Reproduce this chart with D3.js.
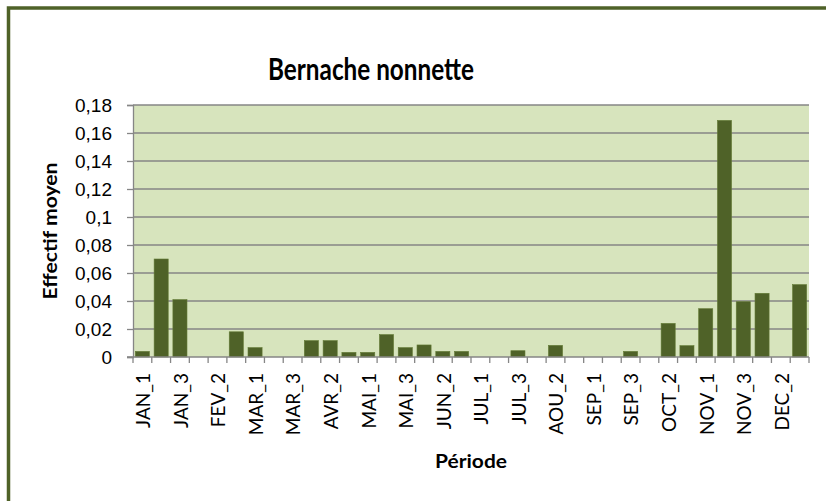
<!DOCTYPE html>
<html>
<head>
<meta charset="utf-8">
<script src="https://cdn.jsdelivr.net/npm/d3@7"></script>
<style>
  body { margin: 0; background: #fff; }
  svg { display: block; font-family: Lato, "Open Sans", sans-serif; }
</style>
</head>
<body>
<svg id="chart"></svg>
<script>
// periods, 3 per month
const months = ["JAN", "FEV", "MAR", "AVR", "MAI", "JUN", "JUL", "AOU", "SEP", "OCT", "NOV", "DEC"]
const periods = months.flatMap(m => [m + "_1", m + "_2", m + "_3"])
// mean count per period
const effectif = [
  0.004, 0.070, 0.041, 0, 0, 0.018, 0.0067, 0, 0, 0.0117, 0.0117, 0.0033,
  0.0033, 0.016, 0.0067, 0.0086, 0.004, 0.004, 0, 0, 0.0045, 0, 0.0083, 0,
  0, 0, 0.004, 0, 0.024, 0.0081, 0.0345, 0.169, 0.0395, 0.0455, 0, 0.0517
]
const yTicks = [0, 0.02, 0.04, 0.06, 0.08, 0.1, 0.12, 0.14, 0.16, 0.18]

const width = 826
const height = 501
const margin = {top: 105, right: 17, bottom: 144, left: 133}
const data = periods.map((p, i) => ({period: p, value: effectif[i]}))

const svg = d3.select("#chart")
    .attr("width", width)
    .attr("height", height)

// outer frame (cropped at right and bottom)
svg.append("rect")
    .attr("x", 8.5).attr("y", 8)
    .attr("width", 900).attr("height", 600)
    .attr("fill", "none")
    .attr("stroke", "#4F6228")
    .attr("stroke-width", 3.5)

const x = d3.scaleBand()
    .domain(periods)
    .range([margin.left, width - margin.right])
    .paddingInner(0.25)
    .paddingOuter(0.125)

const y = d3.scaleLinear()
    .domain([0, 0.18])
    .range([height - margin.bottom, margin.top])

// plot area
svg.append("rect")
    .attr("x", margin.left)
    .attr("y", margin.top)
    .attr("width", width - margin.left - margin.right)
    .attr("height", y(0) - margin.top)
    .attr("fill", "#D7E4BD")

// y axis + gridlines
const fmt = d => d3.format("~g")(d).replace(".", ",")
const yAxis = svg.append("g")
    .attr("transform", `translate(${margin.left},0)`)
    .call(d3.axisLeft(y).tickValues(yTicks).tickFormat(fmt).tickSize(6).tickPadding(15))
yAxis.select(".domain").attr("stroke", "#868686").attr("stroke-width", 1.3)
yAxis.selectAll(".tick line").attr("stroke", "#868686").attr("stroke-width", 1.3)
yAxis.selectAll("text")
    .attr("fill", "#000")
    .style("font-size", "19px")

svg.append("g")
    .selectAll("line")
    .data(yTicks.filter(d => d > 0))
    .join("line")
    .attr("x1", margin.left)
    .attr("x2", width - margin.right)
    .attr("y1", d => y(d))
    .attr("y2", d => y(d))
    .attr("stroke", "#868686")
    .attr("stroke-width", 1.3)

// bars
svg.append("g")
    .selectAll("rect")
    .data(data.filter(d => d.value > 0))
    .join("rect")
    .attr("x", d => x(d.period))
    .attr("y", d => y(d.value))
    .attr("width", x.bandwidth())
    .attr("height", d => y(0) - y(d.value))
    .attr("fill", "#4F6228")
    .attr("stroke", "#627a34")
    .attr("stroke-width", 0.6)

// x axis
const step = x.step()
const xAxis = svg.append("g")
    .attr("transform", `translate(0,${y(0)})`)
xAxis.append("line")
    .attr("x1", margin.left - 6)
    .attr("x2", width - margin.right)
    .attr("stroke", "#868686")
    .attr("stroke-width", 1.3)
xAxis.selectAll(".tk")
    .data(d3.range(periods.length + 1))
    .join("line")
    .attr("x1", i => margin.left + i * step)
    .attr("x2", i => margin.left + i * step)
    .attr("y1", 0).attr("y2", 6)
    .attr("stroke", "#868686")
    .attr("stroke-width", 1.3)
xAxis.selectAll("text")
    .data(periods.filter((p, i) => i % 2 === 0))
    .join("text")
    .attr("transform", d => `translate(${x(d) + x.bandwidth() / 2 + 1},16) rotate(-90)`)
    .attr("text-anchor", "end")
    .attr("dy", "0.36em")
    .style("font-size", "19px")
    .text(d => d)

// titles
svg.append("text")
    .attr("x", 371)
    .attr("y", 80)
    .attr("text-anchor", "middle")
    .attr("textLength", 206)
    .attr("lengthAdjust", "spacingAndGlyphs")
    .style("font-size", "30px")
    .style("font-weight", "bold")
    .text("Bernache nonnette")

svg.append("text")
    .attr("transform", `translate(57,${(margin.top + y(0)) / 2}) rotate(-90)`)
    .attr("text-anchor", "middle")
    .attr("textLength", 137)
    .attr("lengthAdjust", "spacingAndGlyphs")
    .style("font-size", "18px")
    .style("font-weight", "bold")
    .text("Effectif moyen")

svg.append("text")
    .attr("x", (margin.left + width - margin.right) / 2)
    .attr("y", 468)
    .attr("text-anchor", "middle")
    .attr("textLength", 72)
    .attr("lengthAdjust", "spacingAndGlyphs")
    .style("font-size", "18px")
    .style("font-weight", "bold")
    .text("Période")
</script>
</body>
</html>
